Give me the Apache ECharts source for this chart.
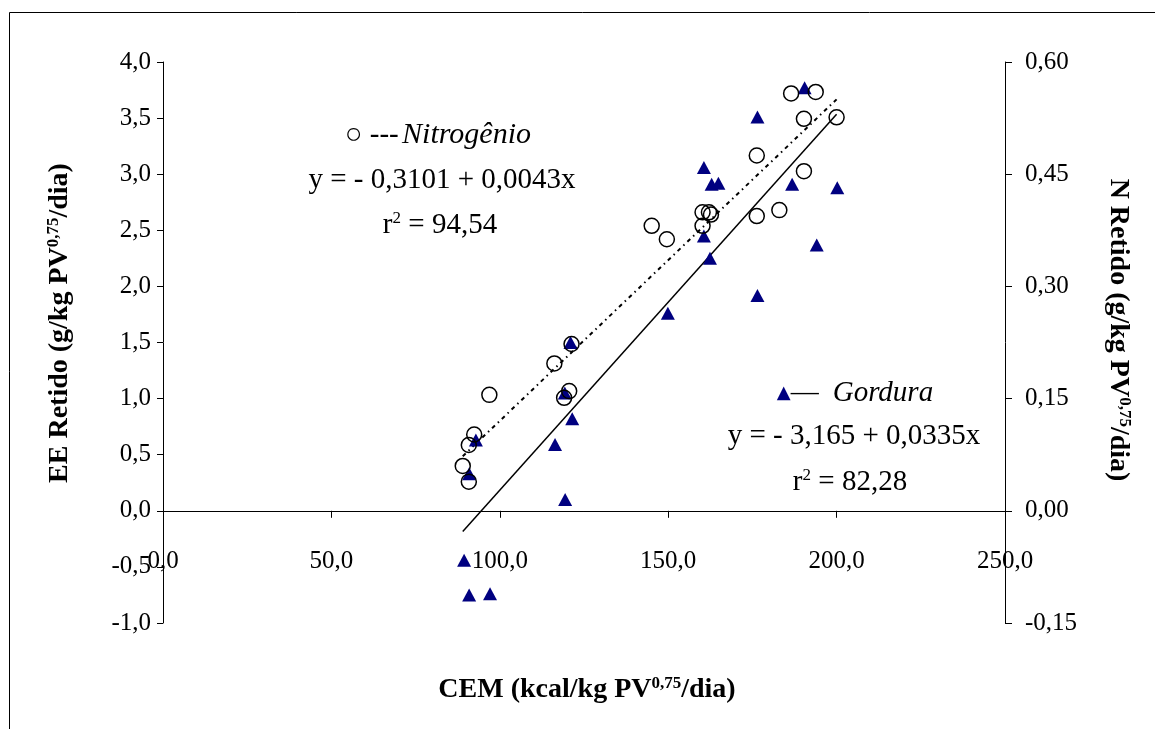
<!DOCTYPE html>
<html><head><meta charset="utf-8">
<script src="https://cdn.jsdelivr.net/npm/echarts@6/dist/echarts.min.js"></script>
<style>html,body{margin:0;padding:0;background:#fff}#c{width:1155px;height:729px}</style>
</head><body><div id="c"></div>
<script>
// CEM (x) and EE retained (Gordura, left axis)
const gorduraX = [89.4, 90.9, 97.1, 90.9, 92.9, 116.4, 119.4, 119.3, 121.5, 121.0, 149.9, 160.6, 160.6, 162.4, 162.9, 164.9, 176.5, 176.5, 186.8, 190.5, 194.1, 200.2];
const gorduraY = [-0.44, -0.75, -0.74, 0.33, 0.63, 0.59, 0.10, 1.05, 0.82, 1.50, 1.76, 2.45, 3.06, 2.25, 2.91, 2.92, 3.51, 1.92, 2.91, 3.77, 2.37, 2.88];
// CEM (x) and N retained (Nitrogênio, right axis)
const nitroX = [89.0, 90.8, 90.8, 92.4, 96.9, 116.2, 121.3, 120.6, 119.1, 145.1, 149.6, 160.2, 160.2, 162.1, 162.7, 176.3, 176.3, 183.0, 186.5, 193.8, 190.3, 190.3, 200.0];
const nitroY = [0.060, 0.088, 0.039, 0.102, 0.155, 0.197, 0.223, 0.160, 0.151, 0.381, 0.363, 0.381, 0.399, 0.399, 0.396, 0.475, 0.394, 0.402, 0.558, 0.560, 0.524, 0.454, 0.526];
// fitted line endpoints
const gorduraFitX = [89, 200];
const gorduraFitY = [-0.185, 3.535];
const nitroFitX = [89, 200];
const nitroFitY = [0.073, 0.550];

const FONT = '"Liberation Serif", "Times New Roman", serif';
const zip = (a, b) => a.map((v, i) => [v, b[i]]);
const comma = d => v => v.toFixed(d).replace('.', ',');

const chart = echarts.init(document.getElementById('c'));
const supStyle = (fs) => ({ fontSize: fs, fontFamily: FONT, fontWeight: 'bold', verticalAlign: 'top', padding: [0, 0, 12, 0] });
const boldStyle = { fontSize: 28, fontFamily: FONT, fontWeight: 'bold', fill: '#000' };

chart.setOption({
  backgroundColor: '#fff',
  animation: false,
  grid: { left: 163, right: 150, top: 62, bottom: 106 },
  xAxis: {
    type: 'value', min: 0, max: 250, interval: 50,
    axisLine: { onZero: true, lineStyle: { color: '#000', width: 1 } },
    axisTick: { show: true, inside: false, length: 7, lineStyle: { color: '#000' } },
    axisLabel: { margin: -74, color: '#000', fontFamily: FONT, fontSize: 25, formatter: comma(1) },
    splitLine: { show: false }
  },
  yAxis: [
    {
      type: 'value', min: -1, max: 4, interval: 0.5,
      axisLine: { show: true, onZero: false, lineStyle: { color: '#000', width: 1 } },
      axisTick: { show: true, length: 6, lineStyle: { color: '#000' } },
      axisLabel: { margin: 12, color: '#000', fontFamily: FONT, fontSize: 25, formatter: comma(1) },
      splitLine: { show: false }
    },
    {
      type: 'value', min: -0.15, max: 0.60, interval: 0.15, position: 'right',
      axisLine: { show: true, onZero: false, lineStyle: { color: '#000', width: 1 } },
      axisTick: { show: true, length: 7, lineStyle: { color: '#000' } },
      axisLabel: { margin: 20, color: '#000', fontFamily: FONT, fontSize: 25, formatter: comma(2) },
      splitLine: { show: false }
    }
  ],
  series: [
    {
      type: 'line', yAxisIndex: 0, data: zip(gorduraFitX, gorduraFitY), showSymbol: false,
      lineStyle: { color: '#000', width: 1.5, type: 'solid' }, z: 3
    },
    {
      type: 'line', yAxisIndex: 1, data: zip(nitroFitX, nitroFitY), showSymbol: false,
      lineStyle: { color: '#000', width: 2, type: [4, 4, 1.5, 4] }, z: 3
    },
    {
      type: 'scatter', yAxisIndex: 0, data: zip(gorduraX, gorduraY), symbol: 'triangle', symbolSize: [14, 13],
      itemStyle: { color: '#000080', opacity: 1 }, z: 4
    },
    {
      type: 'scatter', yAxisIndex: 1, data: zip(nitroX, nitroY), symbol: 'circle', symbolSize: 15,
      itemStyle: { color: 'rgba(0,0,0,0)', borderColor: '#000', borderWidth: 1.5, opacity: 1 }, z: 5
    }
  ],
  graphic: [
    { type: 'rect', silent: true, z: -1, shape: { x: 9.5, y: 12.5, width: 1300, height: 900 }, style: { fill: 'none', stroke: '#000', lineWidth: 1 } },
    {
      type: 'text', x: 587, y: 690, style: {
        text: '{b|CEM (kcal/kg PV}{s|0,75}{b|/dia)}', align: 'center', verticalAlign: 'middle',
        rich: { b: boldStyle, s: supStyle(17) }
      }
    },
    {
      type: 'text', x: 60, y: 323, rotation: Math.PI / 2, style: {
        text: '{b|EE Retido (g/kg PV}{s|0,75}{b|/dia)}', align: 'center', verticalAlign: 'middle',
        rich: { b: boldStyle, s: supStyle(17) }
      }
    },
    {
      type: 'text', x: 1118, y: 330, rotation: -Math.PI / 2, style: {
        text: '{b|N Retido (g/kg PV}{s|0,75}{b|/dia)}', align: 'center', verticalAlign: 'middle',
        rich: { b: boldStyle, s: supStyle(17) }
      }
    },
    {
      type: 'text', x: 438, y: 135, style: {
        text: '{n|○ ---} {i|Nitrogênio}', align: 'center', verticalAlign: 'middle',
        rich: { n: { fontSize: 29, fontFamily: FONT, fill: '#000' }, i: { fontSize: 30, fontFamily: FONT, fontStyle: 'italic', fill: '#000' } }
      }
    },
    {
      type: 'text', x: 442, y: 180, style: {
        text: 'y = - 0,3101 + 0,0043x', align: 'center', verticalAlign: 'middle',
        fontSize: 29, fontFamily: FONT, fill: '#000'
      }
    },
    {
      type: 'text', x: 440, y: 225, style: {
        text: '{t|r}{s|2}{t| = 94,54}', align: 'center', verticalAlign: 'middle',
        rich: { t: { fontSize: 29, fontFamily: FONT, fill: '#000' }, s: { fontSize: 17, fontFamily: FONT, fill: '#000', verticalAlign: 'top', padding: [0, 0, 12, 0] } }
      }
    },
    {
      type: 'text', x: 855, y: 393, style: {
        text: '{g|▲}{n|—  }{i|Gordura}', align: 'center', verticalAlign: 'middle',
        rich: {
          g: { fontSize: 18, fontFamily: '"DejaVu Sans", sans-serif', fill: '#000080' },
          n: { fontSize: 28, fontFamily: FONT, fill: '#000' },
          i: { fontSize: 29, fontFamily: FONT, fontStyle: 'italic', fill: '#000' }
        }
      }
    },
    {
      type: 'text', x: 854, y: 436, style: {
        text: 'y = - 3,165 + 0,0335x', align: 'center', verticalAlign: 'middle',
        fontSize: 29, fontFamily: FONT, fill: '#000'
      }
    },
    {
      type: 'text', x: 850, y: 482, style: {
        text: '{t|r}{s|2}{t| = 82,28}', align: 'center', verticalAlign: 'middle',
        rich: { t: { fontSize: 29, fontFamily: FONT, fill: '#000' }, s: { fontSize: 17, fontFamily: FONT, fill: '#000', verticalAlign: 'top', padding: [0, 0, 12, 0] } }
      }
    }
  ]
});
</script>
</body></html>
